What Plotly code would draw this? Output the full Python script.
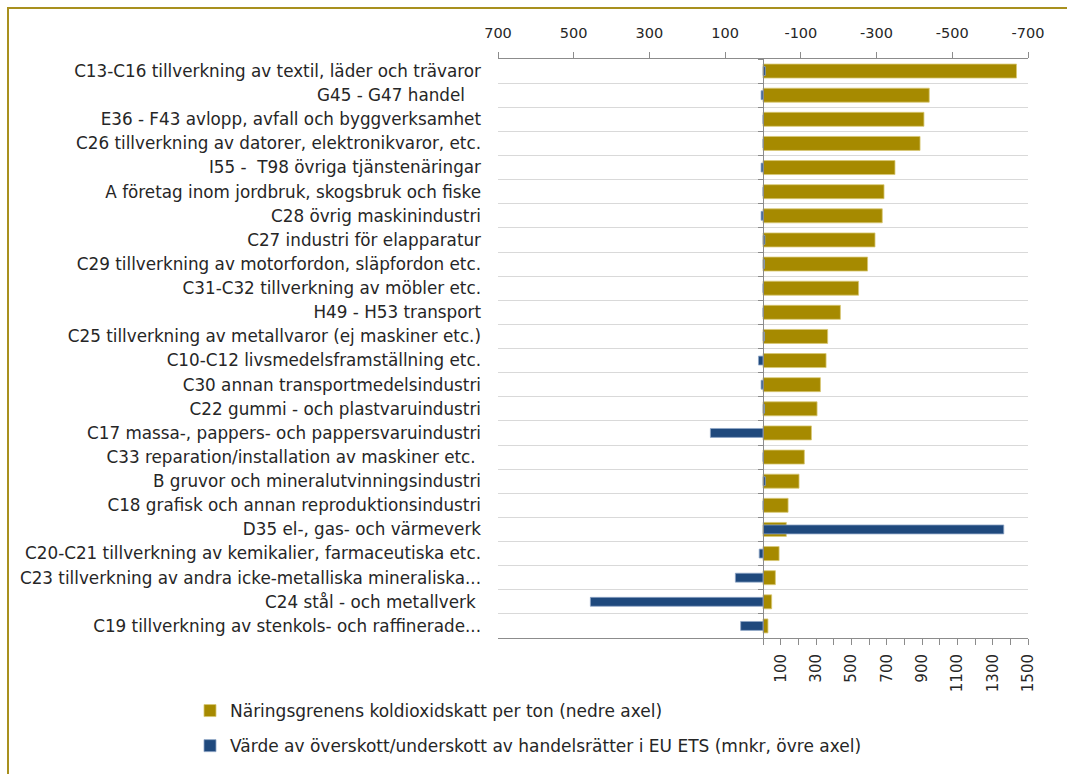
import plotly.graph_objects as go

categories = [
    "C13-C16 tillverkning av textil, läder och trävaror",
    "G45 - G47 handel\u00a0\u00a0\u00a0",
    "E36 - F43 avlopp, avfall och byggverksamhet",
    "C26 tillverkning av datorer, elektronikvaror, etc.",
    "I55 -  T98 övriga tjänstenäringar",
    "A företag inom jordbruk, skogsbruk och fiske",
    "C28 övrig maskinindustri",
    "C27 industri för elapparatur",
    "C29 tillverkning av motorfordon, släpfordon etc.",
    "C31-C32 tillverkning av möbler etc.",
    "H49 - H53 transport",
    "C25 tillverkning av metallvaror (ej maskiner etc.)",
    "C10-C12 livsmedelsframställning etc.",
    "C30 annan transportmedelsindustri",
    "C22 gummi - och plastvaruindustri",
    "C17 massa-, pappers- och pappersvaruindustri",
    "C33 reparation/installation av maskiner etc.\u00a0",
    "B gruvor och mineralutvinningsindustri",
    "C18 grafisk och annan reproduktionsindustri",
    "D35 el-, gas- och värmeverk",
    "C20-C21 tillverkning av kemikalier, farmaceutiska etc.",
    "C23 tillverkning av andra icke-metalliska mineraliska...",
    "C24 stål - och metallverk\u00a0",
    "C19 tillverkning av stenkols- och raffinerade...",
]

# Näringsgrenens koldioxidskatt per ton (nedre axel)
co2_tax_per_ton = [1435, 941, 911, 889, 747, 685, 675, 634, 592, 541, 438, 366,
                   357, 325, 306, 274, 234, 204, 142, 132, 91, 70, 49, 28]

# Värde av överskott/underskott av handelsrätter i EU ETS (mnkr, övre axel)
ets_value = [-6, 5, 0, 0, 5, 0, 5, -5, -4, 0, 0, -4,
             12, 5, -4, 139, 0, -6, 0, -636, 10, 73, 456, 59]

name_tax = "Näringsgrenens koldioxidskatt per ton (nedre axel)"
name_ets = "Värde av överskott/underskott av handelsrätter i EU ETS (mnkr, övre axel)"

bottom_ticks = list(range(0, 1501, 100))
bottom_text = [str(v) if (v // 100) % 2 == 1 else "" for v in bottom_ticks]
top_ticks = [700, 500, 300, 100, -100, -300, -500, -700]
top_text = ["700", "500", "300", "100", "-100", "-300", "-500", "-700"]

GOLD = "#A68A00"
BLUE = "#1F497D"
AXIS = "#8C8C8C"
FONT = "DejaVu Sans"
TXT = "#262626"

fig = go.Figure()
fig.add_trace(go.Bar(
    y=categories, x=co2_tax_per_ton, orientation="h", name=name_tax,
    xaxis="x", yaxis="y", width=0.58,
    marker=dict(color=GOLD, line=dict(color="#D8C873", width=0.8)),
    legendgroup="g1",
))
fig.add_trace(go.Bar(
    y=categories, x=ets_value, orientation="h", name=name_ets,
    xaxis="x2", yaxis="y2", width=0.37,
    marker=dict(color=BLUE, line=dict(color="#8FA6C6", width=0.8)),
    legendgroup="g2",
))

W, H = 1067, 774
L, R, T, B = 498, 39, 59, 136
pw, ph = W - L - R, H - T - B

def px(xp):
    return (xp - L) / pw

def py(yp):
    return (H - B - yp) / ph

fig.update_layout(
    width=W, height=H,
    margin=dict(l=L, r=R, t=T, b=B, pad=0, autoexpand=False),
    paper_bgcolor="white", plot_bgcolor="white",
    font=dict(family=FONT, size=14, color=TXT),
    showlegend=True,
    legend=dict(
        x=px(190), y=py(693), xanchor="left", yanchor="top",
        traceorder="grouped", tracegroupgap=10,
        font=dict(family=FONT, size=17, color=TXT),
        bgcolor="rgba(0,0,0,0)", itemwidth=30,
    ),
    xaxis=dict(
        range=[-1500, 1500], tickvals=bottom_ticks, ticktext=bottom_text,
        tickangle=-90, ticks="outside", ticklen=6, tickcolor=AXIS,
        showline=True, linecolor=AXIS, linewidth=1,
        showgrid=False, zeroline=False,
        tickfont=dict(family=FONT, size=15, color=TXT),
        ticklabelstandoff=3,
    ),
    xaxis2=dict(
        range=[700, -700], overlaying="x", side="top", anchor="y",
        tickvals=top_ticks, ticktext=top_text, ticks="outside", ticklen=6,
        tickcolor=AXIS, showline=True, linecolor=AXIS, linewidth=1,
        showgrid=False, zeroline=False,
        tickfont=dict(family=FONT, size=14.5, color=TXT),
        ticklabelstandoff=8,
    ),
    yaxis=dict(
        type="category", categoryorder="array", categoryarray=categories,
        autorange="reversed", tickson="boundaries",
        showgrid=True, gridcolor="#D9D9D9", gridwidth=1,
        ticks="", showline=False, zeroline=False,
        tickfont=dict(family=FONT, size=16.8, color=TXT),
        ticklabelstandoff=16,
    ),
    yaxis2=dict(
        type="category", categoryorder="array", categoryarray=categories,
        autorange="reversed", overlaying="y", anchor="free", position=0.5,
        side="left", tickson="boundaries", ticks="outside", ticklen=5,
        tickcolor=AXIS, showline=True, linecolor=AXIS, linewidth=1,
        showgrid=False, showticklabels=False, zeroline=False,
    ),
    shapes=[dict(
        type="rect", xref="paper", yref="paper",
        x0=px(8), x1=px(1085), y0=py(795), y1=py(8),
        line=dict(color="#A8901E", width=2), fillcolor="rgba(0,0,0,0)",
        layer="below",
    )],
)

fig.write_html("out.html", config={"displayModeBar": False},
               post_script="document.body.style.margin='0';document.body.style.overflow='hidden';")
